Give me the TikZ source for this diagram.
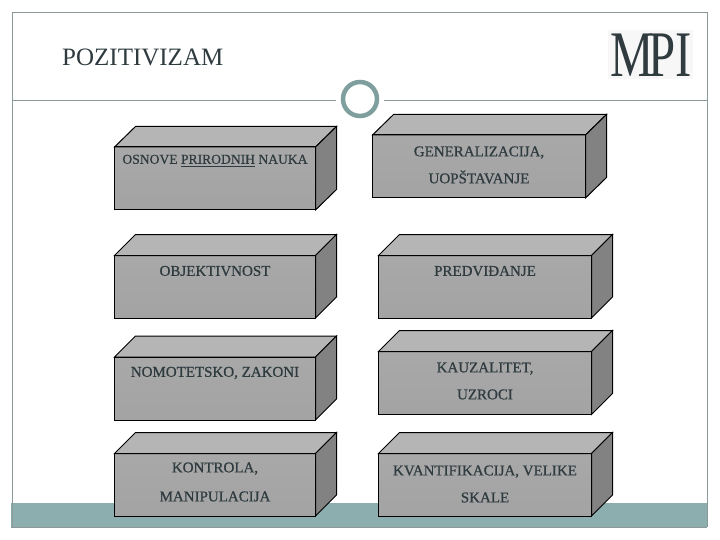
\documentclass[tikz,border=0pt]{standalone}
\usepackage{fontspec}
\setmainfont{Liberation Serif}
\newfontfamily\boxfont[FakeBold=0.7]{Liberation Serif}
\definecolor{frameC}{HTML}{8A9A9A}
\definecolor{bandC}{HTML}{8CAEAE}
\definecolor{txtC}{HTML}{2F3B3F}
\definecolor{ringC}{HTML}{7F9E9E}
\newcommand{\cubeBox}[9]{%
% #1 name #2 xl #3 xr #4 depth-x #5 back top #6 front top #7 bottom #8 text y #9 text
\fill[top color=black!34,bottom color=black!36]
  (#2,#6) rectangle (#3,#7);
\path[fill=black!29,cubeedge] (#2,#6) -- (#2+#4,#5) -- (#3+#4,#5) -- (#3,#6) -- cycle;
\path[fill=black!49,cubeedge] (#3,#6) -- (#3+#4,#5) -- (#3+#4,#7-#6+#5) -- (#3,#7) -- cycle;
\draw[cubeedge] (#2,#6) rectangle (#3,#7);
\node[boxtext] (#1) at ({(#2+#3)/2},#8) {#9};
}
\tikzset{
  cubeedge/.style={draw=black,line width=1pt,line join=miter},
  boxtext/.style={text=txtC,font=\boxfont\fontsize{15}{27}\selectfont,align=center,inner sep=0pt},
}
\begin{document}
\begin{tikzpicture}[x=1pt,y=-1pt]
\useasboundingbox (0,0) rectangle (720,540);
\fill[white] (0,0) rectangle (720,540);
\fill[bandC] (11,503) rectangle (707,527);
\draw[frameC,line width=1pt] (12.5,527) -- (12.5,12.5) -- (707.5,12.5) -- (707.5,527);
\draw[frameC,line width=1.2pt] (11,527.5) -- (707,527.5);
\coordinate (ruleL) at (12,100.3);
\coordinate (ruleA) at (336,100.3);
\coordinate (ruleB) at (384,100.3);
\coordinate (ruleR) at (707,100.3);
\draw[frameC,line width=1pt] (ruleL) -- (ruleA);
\draw[frameC,line width=1pt] (ruleB) -- (ruleR);
\node[circle,draw=ringC,line width=4.5pt,fill=white,minimum size=34pt,inner sep=0pt] (ring) at (360,99) {};
\node[anchor=west,inner sep=0pt,text=txtC,font=\fontsize{25}{30}\selectfont] (title) at (62,57) {POZITIVIZAM};
\fill[black!3] (608,30) rectangle (693,79);
\node[inner sep=0pt,text=txtC,font=\fontsize{65}{70}\selectfont] (logo) at (651,55) {\scalebox{0.75}[1]{M\kern-7ptPI}};
\cubeBox{a}{114.5}{315.5}{21}{126.5}{147}{210}{161}{\fontsize{13.6}{27}\selectfont OSNOVE \underline{PRIRODNIH\rule[-1.5pt]{0pt}{1pt}} NAUKA}
\cubeBox{b}{114.5}{315.5}{21}{234.5}{255.5}{318}{271}{OBJEKTIVNOST}
\cubeBox{c}{114.5}{315.5}{21}{336}{357}{420}{373}{NOMOTETSKO, ZAKONI}
\cubeBox{d}{114.5}{315.5}{21}{432.5}{453.5}{516}{482}{KONTROLA,\\[2pt]MANIPULACIJA}
\cubeBox{e}{372.5}{585.5}{21}{114.5}{135}{198}{165}{GENERALIZACIJA,\\UOPŠTAVANJE}
\cubeBox{f}{378.5}{591.5}{21}{234.5}{255.5}{318}{271}{PREDVIĐANJE}
\cubeBox{g}{378.5}{591.5}{21}{330.5}{351.5}{414.5}{381}{KAUZALITET,\\UZROCI}
\cubeBox{h}{378.5}{591.5}{21}{432.5}{453.5}{516}{484}{KVANTIFIKACIJA, VELIKE\\SKALE}
\end{tikzpicture}
\end{document}
